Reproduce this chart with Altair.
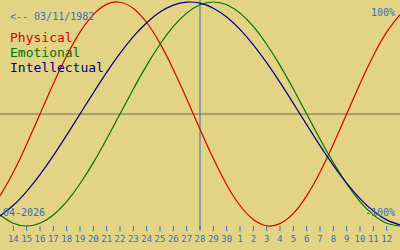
import altair as alt
import pandas as pd

# Day offsets relative to the centre date (28 April 2026)
days = list(range(-15, 16))

physical = [-0.731, -0.520, -0.270, 0.000, 0.270, 0.520, 0.731, 0.888, 0.979, 0.998,
            0.942, 0.817, 0.631, 0.398, 0.136, -0.136, -0.398, -0.631, -0.817, -0.942,
            -0.998, -0.979, -0.888, -0.731, -0.520, -0.270, 0.000, 0.270, 0.520, 0.731, 0.888]
emotional = [-0.901, -0.975, -1.000, -0.975, -0.901, -0.782, -0.623, -0.434, -0.223, 0.000,
             0.223, 0.434, 0.623, 0.782, 0.901, 0.975, 1.000, 0.975, 0.901, 0.782,
             0.623, 0.434, 0.223, 0.000, -0.223, -0.434, -0.623, -0.782, -0.901, -0.975, -1.000]
intellectual = [-0.910, -0.815, -0.690, -0.541, -0.372, -0.189, 0.000, 0.189, 0.372, 0.541,
                0.690, 0.815, 0.910, 0.972, 0.999, 0.990, 0.945, 0.866, 0.756, 0.618,
                0.458, 0.282, 0.095, -0.095, -0.282, -0.458, -0.618, -0.756, -0.866, -0.945, -0.990]

series_names = ["Physical", "Emotional", "Intellectual"]
series_colors = ["#d80000", "#007400", "#000088"]

tick_days = list(range(-14, 15))
tick_labels = [str(n) for n in range(14, 31)] + [str(n) for n in range(1, 13)]

birth_text = "<-- 03/11/1982"
month_text = "04-2026"
top_text = "100%"
bottom_text = "-100%"

BLUE = "#3470c0"
AXIS = "#6a6a52"
BG = "#e2d385"
FONT = "DejaVu Sans Mono"

rows = []
for name, vals in zip(series_names, [physical, emotional, intellectual]):
    for d, v in zip(days, vals):
        rows.append({"series": name, "d": d, "v": v})
lines_df = pd.DataFrame(rows)

xs = alt.Scale(domain=[-15, 15], nice=False, zero=False)
ys = alt.Scale(domain=[-1.2143, 1.0179], nice=False, zero=False)

lines = alt.Chart(lines_df).mark_line(strokeWidth=1.2, interpolate="natural").encode(
    x=alt.X("d:Q", scale=xs, axis=None),
    y=alt.Y("v:Q", scale=ys, axis=None),
    color=alt.Color("series:N", scale=alt.Scale(domain=series_names, range=series_colors), legend=None),
    detail="series:N",
)

vline = alt.Chart(pd.DataFrame({"d": [0]})).mark_rule(color=BLUE, strokeWidth=1).encode(
    x=alt.X("d:Q", scale=xs, axis=None), y=alt.value(0), y2=alt.value(229)
)
hline = alt.Chart(pd.DataFrame({"v": [0]})).mark_rule(color=AXIS, strokeWidth=1).encode(
    y=alt.Y("v:Q", scale=ys, axis=None), x=alt.value(0), x2=alt.value(400)
)

tick_df = pd.DataFrame({"d": tick_days, "label": tick_labels})
ticks = alt.Chart(tick_df).mark_rule(color=BLUE, strokeWidth=1).encode(
    x=alt.X("d:Q", scale=xs, axis=None), y=alt.value(226), y2=alt.value(231)
)
tick_text = alt.Chart(tick_df).mark_text(
    color=BLUE, font=FONT, fontSize=9, baseline="alphabetic", align="center"
).encode(x=alt.X("d:Q", scale=xs, axis=None), y=alt.value(242), text="label:N")


def label(txt, x, y, size, color, align="left"):
    return alt.Chart(pd.DataFrame({"t": [txt]})).mark_text(
        font=FONT, fontSize=size, color=color, align=align, baseline="alphabetic"
    ).encode(x=alt.value(x), y=alt.value(y), text="t:N")


texts = [
    label(birth_text, 10, 20, 10, BLUE),
    label(series_names[0], 10, 42, 13, series_colors[0]),
    label(series_names[1], 10, 57, 13, series_colors[1]),
    label(series_names[2], 10, 72, 13, series_colors[2]),
    label(month_text, 3, 216, 10, BLUE),
    label(top_text, 395, 16, 10, BLUE, "right"),
    label(bottom_text, 395, 216, 10, BLUE, "right"),
]

chart = alt.layer(hline, vline, ticks, tick_text, lines, *texts).properties(
    width=400, height=250, padding=0, autosize=alt.AutoSizeParams(type="none"), background=BG
).configure_view(stroke=None)

chart.save("out.html", embed_options={"renderer": "svg", "actions": False})
